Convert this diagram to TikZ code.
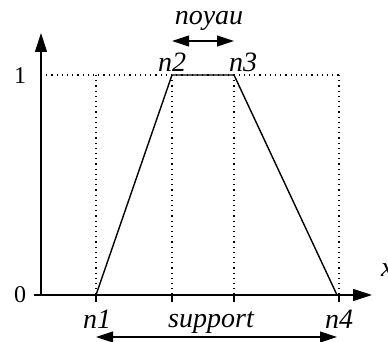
\documentclass[tikz,border=0pt]{standalone}
\usepackage{fontspec}
\setmainfont{Liberation Serif}
\usetikzlibrary{arrows.meta}
\begin{document}
\begin{tikzpicture}[x=1pt,y=-1pt,
  lbl/.style={font=\fontsize{28}{32}\selectfont\itshape, inner sep=0pt, anchor=base},
  num/.style={font=\fontsize{24}{28}\selectfont, inner sep=0pt},
  guide/.style={line width=1.2pt, dash pattern=on 1.2pt off 4pt},
  axis/.style={line width=1.1pt, -{Triangle[length=19pt,width=12pt]}},
  curve/.style={line width=1.4pt, line join=round},
  span/.style={line width=1.1pt, {Triangle[length=17pt,width=11pt]}-{Triangle[length=17pt,width=11pt]}},
  tick/.style={line width=1.1pt}]
\useasboundingbox (0,0) rectangle (388,342);
% key points
\coordinate (O) at (41,295);
\coordinate (ytop) at (41,33);
\coordinate (xstart) at (34,295);
\coordinate (xend) at (372,295);
\coordinate (P1) at (96,295);
\coordinate (P2) at (172,75);
\coordinate (P3) at (234,75);
\coordinate (P4) at (337,295);
\coordinate (Y1) at (41,75);
\coordinate (G4t) at (339,75);
\coordinate (G4b) at (339,295);
\coordinate (B2) at (172,295);
\coordinate (B3) at (234,295);
\coordinate (T1) at (96,302);
\coordinate (T2) at (172,302);
\coordinate (T3) at (234,302);
\coordinate (T4) at (339,302);
\coordinate (S1) at (96,337);
\coordinate (S4) at (337,337);
\coordinate (N2) at (172,41);
\coordinate (N3) at (234,41);
% guides
\draw[guide] (Y1) -- (G4t);
\draw[guide] (P1 |- Y1) -- (P1);
\draw[guide] (P2) -- (B2);
\draw[guide] (P3) -- (B3);
\draw[guide] (G4t) -- (G4b);
% axes
\draw[axis] (O) -- (ytop);
\draw[axis] (xstart) -- (xend);
% ticks
\draw[tick] (P1) -- (T1);
\draw[tick] (B2) -- (T2);
\draw[tick] (B3) -- (T3);
\draw[tick] (G4b) -- (T4);
% trapezoid
\draw[curve] (P1) -- (P2) -- (P3) -- (P4);
% spans
\draw[span] (N2) -- (N3);
\draw[span] (S1) -- (S4);
% labels
\node[num] (zero) at (20,295) {0};
\node[num] (one) at (20,76) {1};
\node[lbl, anchor=base west] (xl) at (381,276) {x};
\node[lbl] (ln1) at (97,328) {n1};
\node[lbl] (ln4) at (339,328) {n4};
\node[lbl] (ln2) at (172,72) {n2};
\node[lbl] (ln3) at (243,72) {n3};
\node[lbl] (noyau) at (209,25) {noyau};
\node[lbl] (support) at (211,327) {support};
\end{tikzpicture}
\end{document}
